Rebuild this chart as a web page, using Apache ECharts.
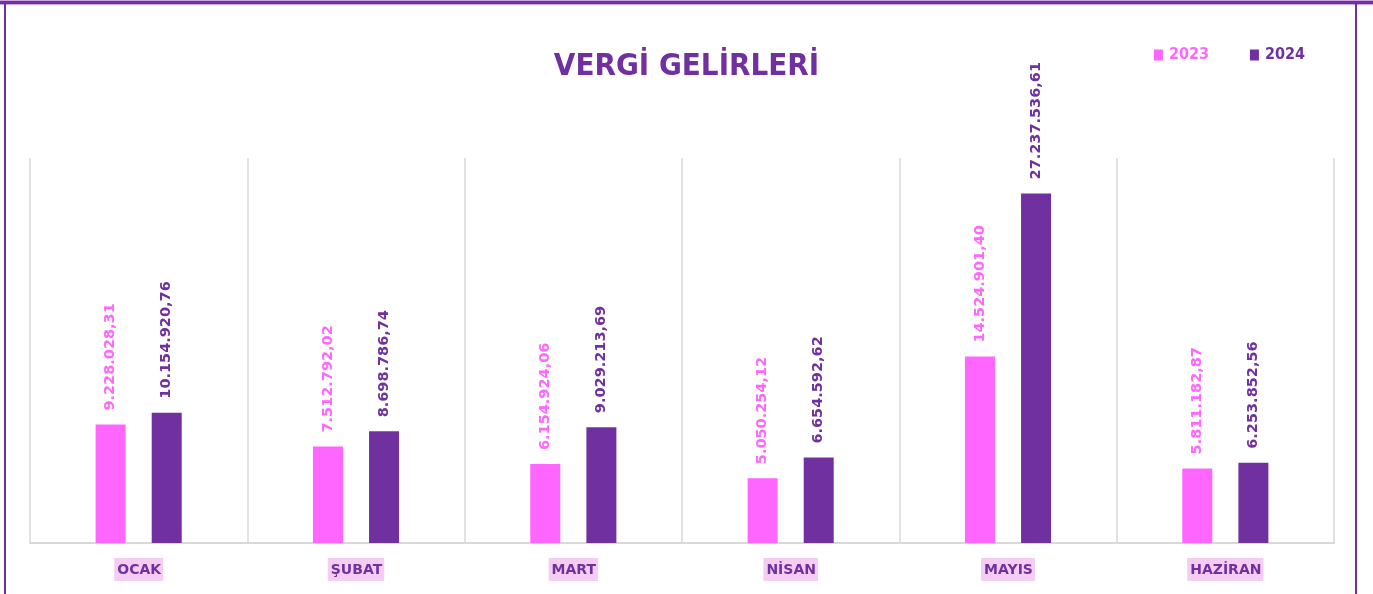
<!DOCTYPE html>
<html>
<head>
<meta charset="utf-8">
<script src="https://cdn.jsdelivr.net/npm/echarts@6/dist/echarts.min.js"></script>
<style>
html,body{margin:0;padding:0;background:#fff;}
#chart{width:1373px;height:594px;}
</style>
</head>
<body>
<div id="chart"></div>
<script>
const categories = ['OCAK', 'ŞUBAT', 'MART', 'NİSAN', 'MAYIS', 'HAZİRAN'];
const values2023 = [9228028.31, 7512792.02, 6154924.06, 5050254.12, 14524901.40, 5811182.87];
const values2024 = [10154920.76, 8698786.74, 9029213.69, 6654592.62, 27237536.61, 6253852.56];
const seriesNames = ['2023', '2024'];
const titleText = 'VERGİ GELİRLERİ';

const PINK = '#ff66ff';
const PURPLE = '#7030a0';
const COND = '"DejaVu Sans Condensed", "DejaVu Sans", sans-serif';

function fmtTR(v) {
  const parts = v.toFixed(2).split('.');
  const intPart = parts[0].replace(/\B(?=(\d{3})+(?!\d))/g, '.');
  return intPart + ',' + parts[1];
}

const chart = echarts.init(document.getElementById('chart'), null, {renderer: 'canvas'});

const labelCommon = {
  show: true,
  position: 'top',
  rotate: 90,
  align: 'left',
  verticalAlign: 'middle',
  distance: 14,
  fontFamily: 'DejaVu Sans',
  fontWeight: 'bold',
  fontSize: 14.5,
  formatter: p => fmtTR(p.value)
};

chart.setOption({
  backgroundColor: '#ffffff',
  animation: false,
  title: {
    text: titleText,
    left: 'center',
    top: 46,
    textStyle: {
      fontFamily: COND,
      fontWeight: 'bold',
      fontSize: 31,
      color: PURPLE
    }
  },
  legend: {
    right: 63,
    top: 42,
    itemWidth: 9,
    itemHeight: 11,
    itemGap: 41,
    icon: 'rect',
    textStyle: {
      fontFamily: COND,
      fontWeight: 'bold',
      fontSize: 16,
      padding: [0, 0, 0, 1]
    },
    data: [
      {name: seriesNames[0], textStyle: {color: PINK}},
      {name: seriesNames[1], textStyle: {color: PURPLE}}
    ]
  },
  grid: {left: 30, right: 39, top: 158, bottom: 51},
  xAxis: {
    type: 'category',
    data: categories,
    axisLine: {show: true, lineStyle: {color: '#d9d9d9', width: 2}},
    axisTick: {show: false},
    splitLine: {show: true, lineStyle: {color: '#d9d9d9', width: 1.5}},
    axisLabel: {
      color: PURPLE,
      fontFamily: 'DejaVu Sans',
      fontWeight: 'bold',
      fontSize: 14,
      margin: 15,
      backgroundColor: '#f6cdf2',
      padding: [5, 2, 4, 3]
    }
  },
  yAxis: {
    type: 'value',
    min: 0,
    max: 30000000,
    show: false,
    splitLine: {show: false}
  },
  series: [
    {
      name: seriesNames[0],
      type: 'bar',
      data: values2023,
      barWidth: 30,
      barGap: '87%',
      itemStyle: {color: PINK},
      label: Object.assign({}, labelCommon, {color: PINK})
    },
    {
      name: seriesNames[1],
      type: 'bar',
      data: values2024,
      barWidth: 30,
      itemStyle: {color: PURPLE},
      label: Object.assign({}, labelCommon, {color: PURPLE})
    }
  ],
  graphic: [
    {type: 'rect', shape: {x: 0, y: 0, width: 1373, height: 5}, style: {fill: '#c9a6de'}, z: 100},
    {type: 'rect', shape: {x: 0, y: 1, width: 1373, height: 3}, style: {fill: PURPLE}, z: 101},
    {type: 'rect', shape: {x: 4, y: 2, width: 2, height: 600}, style: {fill: PURPLE}, z: 101},
    {type: 'rect', shape: {x: 1355, y: 2, width: 2, height: 600}, style: {fill: PURPLE}, z: 101}
  ]
});
</script>
</body>
</html>
